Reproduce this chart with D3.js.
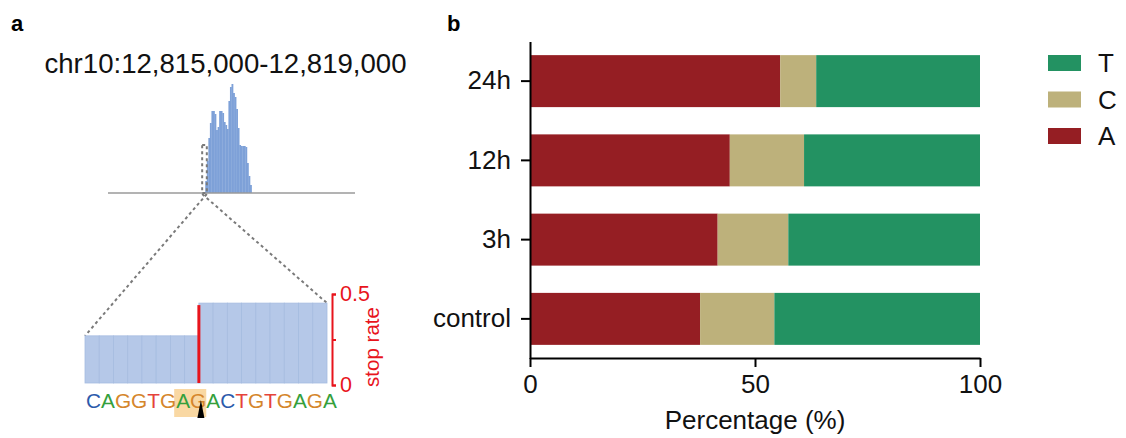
<!DOCTYPE html>
<html>
<head>
<meta charset="utf-8">
<script src="https://cdn.jsdelivr.net/npm/d3@7"></script>
<style>
  html, body { margin: 0; padding: 0; background: #fff; }
  svg { display: block; font-family: "Liberation Sans", Arial, Helvetica, sans-serif; }
</style>
</head>
<body>
<svg id="fig" width="1126" height="438"></svg>
<script>
// ---------- Panel a: read coverage over the locus ----------
const regionStart = 12815000;
const regionEnd = 12819000;
const regionLabel = "chr10:12,815,000-12,819,000";
const binStart = 12816575;       // first covered bin
const binSize = 25;              // bp per bin
const coverage = [12, 32, 55, 70, 82, 82, 79, 63, 66, 82, 82, 80, 71, 68, 64,
                  92, 106, 109, 100, 96, 84, 65, 48, 47, 47, 47, 46, 30, 17, 8];
const coverageMax = 110;
// zoomed window marked on the track (dotted box)
const windowStart = 12816525;
const windowEnd = 12816600;
const windowHeight = 48;

// ---------- Panel a: per-nucleotide stop rate ----------
const sequence = ["C","A","G","G","T","G","A","G","A","C","T","G","T","G","A","G","A"];
const stopRate = [0.27, 0.27, 0.27, 0.27, 0.27, 0.27, 0.27, 0.27,
                  0.45, 0.45, 0.45, 0.45, 0.45, 0.45, 0.45, 0.45, 0.45];
const stopSiteIndex = 8;          // boundary where the stop rate jumps
const motifIndices = [6, 7];      // highlighted "AG"
const stopTicks = [0, 0.25, 0.5];
const stopTickLabels = ["0", "", "0.5"];
const baseColors = { A: "#34a03c", C: "#2c5aab", G: "#d5862b", T: "#e5433a" };

// ---------- Panel b: base composition ----------
const categories = ["24h", "12h", "3h", "control"];
const pctA = [55.6, 44.4, 41.7, 37.8];
const pctC = [8.0, 16.5, 15.7, 16.5];
const pctT = [36.4, 39.1, 42.6, 45.7];
const xTicks = [0, 50, 100];
const legendKeys = ["T", "C", "A"];
const compColors = { A: "#951e23", C: "#bdb17b", T: "#239262" };

const svg = d3.select("#fig");

// panel letters
svg.append("text").attr("x", 11).attr("y", 31).attr("font-size", 22)
  .attr("font-weight", "bold").text("a");
svg.append("text").attr("x", 447).attr("y", 31).attr("font-size", 22)
  .attr("font-weight", "bold").text("b");

// ===== Panel a: coverage track =====
const gx = d3.scaleLinear().domain([regionStart, regionEnd]).range([108, 355]);
const cy = d3.scaleLinear().domain([0, coverageMax]).range([193, 83]);

svg.append("text").attr("x", 225.5).attr("y", 73).attr("text-anchor", "middle")
  .attr("font-size", 27.6).attr("fill", "#111").text(regionLabel);

svg.append("g").selectAll("rect").data(coverage).join("rect")
  .attr("x", (d, i) => gx(binStart + i * binSize))
  .attr("width", (d, i) => gx(binStart + (i + 1) * binSize) - gx(binStart + i * binSize) + 0.3)
  .attr("y", d => cy(d))
  .attr("height", d => cy(0) - cy(d))
  .attr("fill", "#7ea1d8");

svg.append("line").attr("x1", gx(regionStart)).attr("x2", gx(regionEnd))
  .attr("y1", cy(0)).attr("y2", cy(0))
  .attr("stroke", "#9a9a9a").attr("stroke-width", 1.5);

const dotted = { stroke: "#7a7a7a", "stroke-width": 2, "stroke-dasharray": "3,3", fill: "none" };
function styleDotted(sel) { Object.entries(dotted).forEach(([k, v]) => sel.attr(k, v)); return sel; }

styleDotted(svg.append("rect")
  .attr("x", gx(windowStart)).attr("width", gx(windowEnd) - gx(windowStart))
  .attr("y", cy(windowHeight)).attr("height", cy(0) - cy(windowHeight)));

// ===== Panel a: stop-rate bars =====
const bx = d3.scaleBand().domain(d3.range(sequence.length)).range([85, 327]).padding(0);
const sy = d3.scaleLinear().domain([0, 0.5]).range([385, 294]);

// projection lines from the marked window to the zoomed bars
styleDotted(svg.append("line")
  .attr("x1", gx(windowEnd)).attr("y1", cy(0) + 1)
  .attr("x2", bx.range()[0]).attr("y2", sy(stopRate[0])));
styleDotted(svg.append("line")
  .attr("x1", gx(windowStart)).attr("y1", cy(0) + 1)
  .attr("x2", bx.range()[1]).attr("y2", sy(stopRate[stopRate.length - 1])));

svg.append("g").selectAll("rect").data(stopRate).join("rect")
  .attr("x", (d, i) => bx(i))
  .attr("width", bx.bandwidth())
  .attr("y", d => sy(d))
  .attr("height", d => sy(0) - sy(d) - 2)
  .attr("fill", "#b5c8e8")
  .attr("stroke", "#a6bce0").attr("stroke-width", 0.8);

// stop site marker
const stopX = bx(stopSiteIndex);
svg.append("line").attr("x1", stopX).attr("x2", stopX)
  .attr("y1", sy(0) - 2).attr("y2", sy(stopRate[stopSiteIndex]) + 2)
  .attr("stroke", "#e8141c").attr("stroke-width", 3);

// stop-rate axis (red)
const red = "#e8141c";
const stopAxis = svg.append("g").attr("transform", "translate(332,0)")
  .call(d3.axisRight(sy).tickValues(stopTicks).tickSize(4).tickSizeOuter(4)
        .tickFormat((d, i) => stopTickLabels[i]));
stopAxis.select(".domain").attr("stroke", red).attr("stroke-width", 2);
stopAxis.selectAll(".tick line").attr("stroke", red).attr("stroke-width", 2);
stopAxis.selectAll(".tick text").attr("fill", red).attr("font-size", 21.5)
  .attr("font-family", "Liberation Sans, Arial, sans-serif").attr("x", 8);
svg.append("text").attr("transform", "translate(379,347) rotate(-90)")
  .attr("text-anchor", "middle").attr("fill", red).attr("font-size", 20.5)
  .text("stop rate");

// sequence with highlighted motif
const hlLayer = svg.append("g");
const seqText = svg.append("text").attr("x", 86).attr("y", 408).attr("font-size", 20.8);
seqText.selectAll("tspan").data(sequence).join("tspan")
  .attr("fill", d => baseColors[d]).text(d => d);
const node = seqText.node();
const e0 = node.getExtentOfChar(motifIndices[0]);
const e1 = node.getExtentOfChar(motifIndices[motifIndices.length - 1]);
hlLayer.append("rect").attr("x", e0.x - 2).attr("width", e1.x + e1.width - e0.x + 2)
  .attr("y", 389).attr("height", 28).attr("fill", "#f9d8a3");

// cleavage arrowhead
const tipX = stopX + 2;
svg.append("path")
  .attr("d", `M${tipX},400 L${tipX - 3.5},418 L${tipX + 3.5},418 Z`)
  .attr("fill", "#000");

// ===== Panel b: stacked composition bars =====
const x = d3.scaleLinear().domain([0, 100]).range([530, 980]);
const y = d3.scaleBand().domain(categories).range([41.5, 358.5])
  .paddingInner(0.344).paddingOuter(0.172);

const rows = categories.map((c, i) => ({ cat: c, A: pctA[i], C: pctC[i], T: pctT[i] }));
const stack = d3.stack().keys(["A", "C", "T"])(rows);

svg.append("g").selectAll("g").data(stack).join("g")
  .attr("fill", s => compColors[s.key])
  .selectAll("rect").data(s => s).join("rect")
  .attr("x", d => x(d[0]))
  .attr("width", d => x(d[1]) - x(d[0]))
  .attr("y", d => y(d.data.cat))
  .attr("height", y.bandwidth());

const yAxis = svg.append("g").attr("transform", "translate(530,0)")
  .call(d3.axisLeft(y).tickSize(9).tickSizeOuter(0).tickPadding(10));
const xAxis = svg.append("g").attr("transform", "translate(0,358)")
  .call(d3.axisBottom(x).tickValues(xTicks).tickSize(9).tickSizeOuter(0).tickPadding(8));
[yAxis, xAxis].forEach(a => {
  a.select(".domain").attr("stroke", "#000").attr("stroke-width", 2);
  a.selectAll(".tick line").attr("stroke", "#000").attr("stroke-width", 2);
  a.selectAll(".tick text").attr("fill", "#111").attr("font-size", 26)
    .attr("font-family", "Liberation Sans, Arial, sans-serif");
});
xAxis.selectAll(".tick text").attr("dy", "0.71em");

svg.append("text").attr("x", 755).attr("y", 429).attr("text-anchor", "middle")
  .attr("font-size", 26).attr("fill", "#111").text("Percentage (%)");

// legend
const legend = svg.append("g").selectAll("g").data(legendKeys).join("g")
  .attr("transform", (d, i) => `translate(1048,${63 + i * 36.5})`);
legend.append("rect").attr("x", 0).attr("y", -8).attr("width", 33).attr("height", 16)
  .attr("fill", d => compColors[d]);
legend.append("text").attr("x", 50).attr("y", 9).attr("font-size", 26)
  .attr("fill", "#111").text(d => d);
</script>
</body>
</html>
